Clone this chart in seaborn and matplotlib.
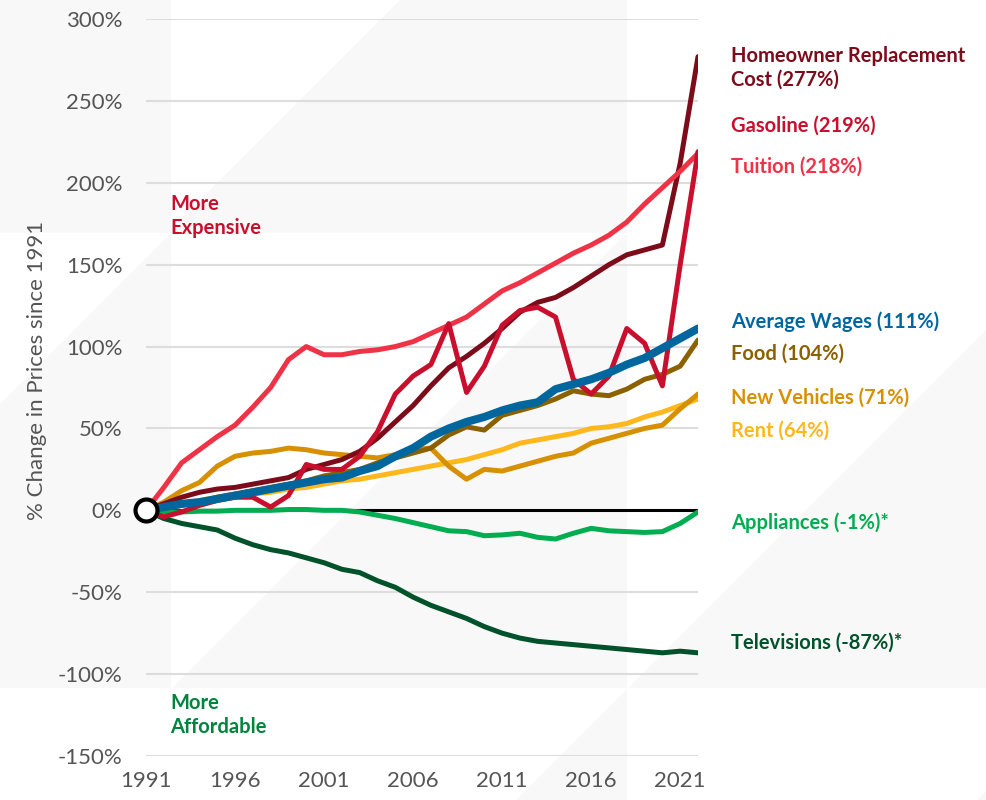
import numpy as np
import pandas as pd
import matplotlib
matplotlib.use('Agg')  # Use non-interactive backend
import matplotlib.pyplot as plt
import matplotlib.transforms as mtransforms
from matplotlib.patches import Polygon
import seaborn as sns

# Data: % change in prices since 1991
years = list(range(1991, 2023))
homeowner = [0, 4, 8, 11, 13, 14, 16, 18, 20, 25, 28, 31, 36, 44, 54, 64, 76, 87, 94, 102,
             111, 121, 127, 130, 136, 143, 150, 156, 159, 162, 212, 277]
gasoline = [0, -4, -1, 3, 6, 8, 8, 2, 9, 28, 25, 25, 33, 48, 71, 82, 89, 114, 72, 88,
            113, 122, 124, 118, 80, 71, 82, 111, 102, 76, 150, 219]
tuition = [0, 14, 29, 37, 45, 52, 63, 75, 92, 100, 95, 95, 97, 98, 100, 103, 108, 113, 118, 126,
           134, 139, 145, 151, 157, 162, 168, 176, 187, 197, 207, 218]
wages = [0, 2, 4, 5, 7, 9, 11, 13, 15, 17, 19, 20, 24, 27, 33, 38, 45, 50, 54, 57,
         61, 64, 66, 74, 77, 80, 84, 89, 93, 99, 105, 111]
food = [0, 1, 3, 5, 8, 10, 12, 14, 16, 18, 21, 23, 25, 29, 32, 35, 38, 46, 51, 49,
        58, 61, 64, 68, 73, 71, 70, 74, 80, 83, 88, 104]
vehicles = [0, 5, 12, 17, 27, 33, 35, 36, 38, 37, 35, 34, 33, 32, 34, 37, 38, 27, 19, 25,
            24, 27, 30, 33, 35, 41, 44, 47, 50, 52, 62, 71]
rent = [0, 2, 4, 6, 8, 9, 10, 11, 13, 14, 16, 18, 19, 21, 23, 25, 27, 29, 31, 34,
        37, 41, 43, 45, 47, 50, 51, 53, 57, 60, 64, 68]
appliances = [0, -1, -1, -0.5, -0.5, 0, 0, 0, 0.5, 0.5, 0, 0, -1, -3, -5, -7.5, -10, -12.5, -13, -15.5,
              -15, -14, -16.5, -17.5, -14, -11, -12.5, -13, -13.5, -13, -8, -1]
televisions = [0, -5, -8, -10, -12, -17, -21, -24, -26, -29, -32, -36, -38, -43, -47, -53, -58, -62, -66, -71,
               -75, -78, -80, -81, -82, -83, -84, -85, -86, -87, -86, -87]

series_names = ['Televisions', 'Appliances', 'Rent', 'New Vehicles', 'Food',
                'Homeowner', 'Tuition', 'Gasoline', 'Average Wages']
series_values = [televisions, appliances, rent, vehicles, food,
                 homeowner, tuition, gasoline, wages]
series_colors = ['#00522a', '#00ad50', '#ffb81c', '#d69000', '#8b6100',
                 '#7d0c1b', '#ef3347', '#c8102e', '#00679e']

# End labels (text, colour, y position in data units)
label_texts = ['Homeowner Replacement\nCost (277%)', 'Gasoline (219%)', 'Tuition (218%)',
               'Average Wages (111%)', 'Food (104%)', 'New Vehicles (71%)', 'Rent (64%)',
               'Appliances (-1%)*', 'Televisions (-87%)*']
label_colors = ['#7d0c1b', '#c8102e', '#ef3347', '#00679e', '#8b6100',
                '#d69000', '#ffb81c', '#00ad50', '#00522a']
label_y = [270, 235, 210, 115, 95.5, 69, 48.5, -7.5, -81]

W, H = 986, 800


def clip_cell(x0, x1, y0, y1, c):
    """Part of a pixel rectangle where x + y >= c"""
    pts = [(x0, y0), (x1, y0), (x1, y1), (x0, y1)]
    out = []
    for i in range(4):
        p, q = pts[i], pts[(i + 1) % 4]
        fp, fq = p[0] + p[1] - c, q[0] + q[1] - c
        if fp >= 0:
            out.append(p)
        if fp * fq < 0:
            t = fp / (fp - fq)
            out.append((p[0] + t * (q[0] - p[0]), p[1] + t * (q[1] - p[1])))
    return out


sns.set_style("white")
plt.rcParams['font.family'] = ['Lato', 'DejaVu Sans']

fig = plt.figure(figsize=(W / 100, H / 100), dpi=100, facecolor='white')

# Decorative light grey background blocks with diagonal cuts
bg_cells = [(0, 171, 0, 233, -1), (171, 627, 0, 233, 400), (0, 171, 233, 688, 404),
            (171, 627, 233, 688, 860), (627, 986, 233, 688, 1316),
            (171, 627, 688, 800, 1316), (627, 986, 688, 800, 1777)]
for x0, x1, y0, y1, c in bg_cells:
    poly = clip_cell(x0, x1, y0, y1, c)
    if len(poly) >= 3:
        fig.patches.append(Polygon([(px / W, 1 - py / H) for px, py in poly],
                                   closed=True, transform=fig.transFigure,
                                   facecolor='#f8f8f8', edgecolor='none', zorder=-10))

ax = fig.add_axes([146 / W, 44 / H, 552 / W, 737 / H])
ax.set_facecolor('none')
ax.set_zorder(1)

ax.axhline(0, color='black', linewidth=2.2, zorder=2)

for name, vals, col in zip(series_names, series_values, series_colors):
    lw = 5.8 if name == 'Average Wages' else 3.6
    sns.lineplot(x=years, y=vals, color=col, linewidth=lw, ax=ax, zorder=3,
                 solid_capstyle='round', solid_joinstyle='round')

# Base-year marker
sns.scatterplot(x=[years[0]], y=[wages[0]], s=250, color='white', edgecolor='black',
                linewidth=3, ax=ax, zorder=5, clip_on=False)

ax.set_xlim(1991, 2022)
ax.set_ylim(-150, 300)
ax.set_yticks(range(-150, 301, 50))
ax.set_yticklabels([f'{v}%' for v in range(-150, 301, 50)])
ax.set_xticks(range(1991, 2022, 5))
ax.tick_params(axis='y', length=0, labelsize=16, labelcolor='#555555', pad=17)
ax.tick_params(axis='x', length=0, labelsize=16, labelcolor='#555555', pad=11)
ax.yaxis.grid(True, color='#dddddd', linewidth=1.5)
ax.xaxis.grid(False)
ax.set_axisbelow(True)
for s in ax.spines.values():
    s.set_visible(False)
ax.set_xlabel('')
ax.set_ylabel('')

fig.text(37 / W, 1 - 370 / H, '% Change in Prices since 1991', rotation=90,
         ha='center', va='center', fontsize=16, color='#555555')

# End labels
trans = mtransforms.blended_transform_factory(ax.transAxes, ax.transData)
for txt, col, yv in zip(label_texts, label_colors, label_y):
    ax.text(1.06, yv, txt, transform=trans, color=col, fontsize=14.5, fontweight='bold',
            ha='left', va='center', linespacing=1.25, clip_on=False)

# Direction notes
ax.text(1992.35, 180, 'More\nExpensive', color='#c8102e', fontsize=14.5, fontweight='bold',
        ha='left', va='center', linespacing=1.25)
ax.text(1992.35, -124.7, 'More\nAffordable', color='#00843d', fontsize=14.5, fontweight='bold',
        ha='left', va='center', linespacing=1.25)

fig.savefig('out.png', dpi=100)
plt.close(fig)
